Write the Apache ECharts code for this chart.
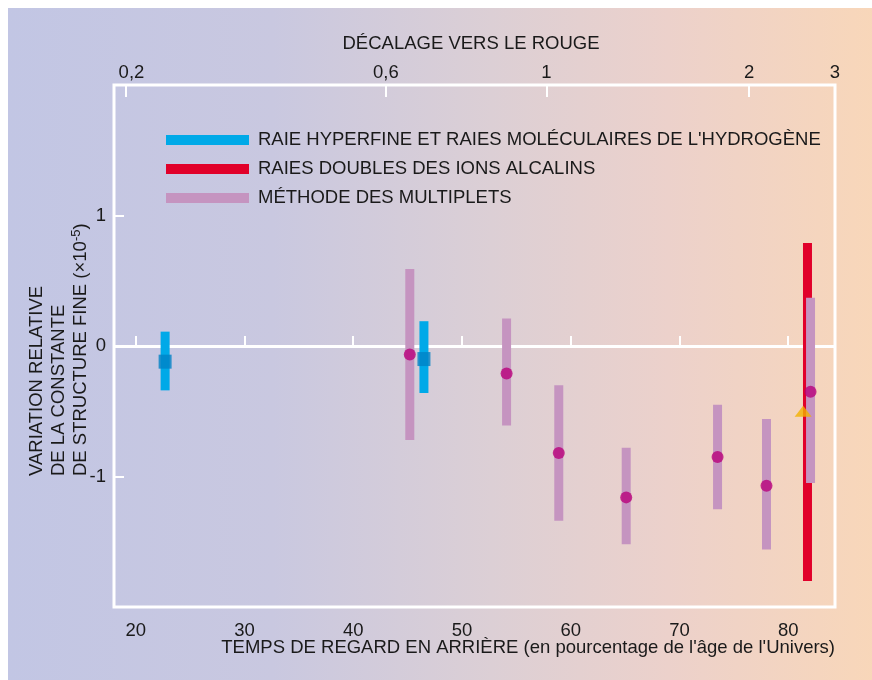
<!DOCTYPE html>
<html>
<head>
<meta charset="utf-8">
<script src="https://cdn.jsdelivr.net/npm/echarts@6/dist/echarts.min.js"></script>
<style>html,body{margin:0;padding:0;background:#fff;overflow:hidden}#c{width:872px;height:680px}</style>
</head>
<body>
<div id="c"></div>
<script>
// ---- data ----
const lookbackTicks = [20, 30, 40, 50, 60, 70, 80];
const yTicks = [-1, 0, 1];
const redshiftLabels = ['0,2', '0,6', '1', '2', '3'];
const redshiftLookback = [19.1, 43.0, 57.75, 76.4, 84.3];
const zeroLine = 0;

const hydroName = "RAIE HYPERFINE ET RAIES MOLÉCULAIRES DE L'HYDROGÈNE";
const hydroX = [22.7, 46.5];
const hydroY = [-0.12, -0.10];
const hydroLow = [-0.34, -0.36];
const hydroHigh = [0.11, 0.19];

const alkaliName = "RAIES DOUBLES DES IONS ALCALINS";
const alkaliX = [81.77];
const alkaliLow = [-1.80];
const alkaliHigh = [0.79];
const alkaliPointX = [81.37];
const alkaliY = [-0.50];

const multName = "MÉTHODE DES MULTIPLETS";
const multX = [45.2, 54.1, 58.9, 65.1, 73.5, 78.0, 82.05];
const multY = [-0.065, -0.21, -0.82, -1.16, -0.85, -1.07, -0.35];
const multLow = [-0.72, -0.61, -1.34, -1.52, -1.25, -1.56, -1.05];
const multHigh = [0.59, 0.21, -0.30, -0.78, -0.45, -0.56, 0.37];

// ---- chart ----
const FONT = 'Liberation Sans';
const FS = 18.5;
const TXT = '#1a1a1a';
const chart = echarts.init(document.getElementById('c'), null, {renderer: 'canvas'});

function barData(xs, lo, hi) { return xs.map((x, i) => [x, lo[i], hi[i]]); }
function ptData(xs, ys) { return xs.map((x, i) => [x, ys[i]]); }
function errRender(width) {
  return function (params, api) {
    const x = api.value(0);
    const top = api.coord([x, api.value(2)]);
    const bot = api.coord([x, api.value(1)]);
    return {
      type: 'rect',
      shape: {x: top[0] - width / 2, y: top[1], width: width, height: bot[1] - top[1]},
      style: {fill: api.visual('color')}
    };
  };
}

const option = {
  backgroundColor: '#ffffff',
  animation: false,
  textStyle: {fontFamily: FONT},
  graphic: [
    {
      type: 'rect', z: -100, silent: true,
      shape: {x: 8, y: 8, width: 880, height: 690},
      style: {
        fill: {
          type: 'linear', x: 0, y: 0, x2: 1, y2: 0,
          colorStops: [
            {offset: 0, color: '#c2c6e4'},
            {offset: 0.3, color: '#c9c8e0'},
            {offset: 0.55, color: '#dccfd5'},
            {offset: 0.75, color: '#ecd1cb'},
            {offset: 1, color: '#f9d7b8'}
          ]
        }
      }
    },
    {
      type: 'text', x: 471, y: 44, z: 10,
      style: {text: 'DÉCALAGE VERS LE ROUGE', fontFamily: FONT, fontSize: FS, fill: TXT, align: 'center', verticalAlign: 'middle'}
    },
    {
      type: 'text', x: 835, y: 648, z: 10,
      style: {text: "TEMPS DE REGARD EN ARRIÈRE (en pourcentage de l'âge de l'Univers)", fontFamily: FONT, fontSize: FS, fill: TXT, align: 'right', verticalAlign: 'middle'}
    },
    {
      type: 'text', x: 26, y: 476, z: 10, rotation: Math.PI / 2,
      style: {
        text: 'VARIATION RELATIVE\nDE LA CONSTANTE\nDE STRUCTURE FINE (×10{sup|-5})',
        fontFamily: FONT, fontSize: FS, lineHeight: 22, fill: TXT,
        align: 'left', verticalAlign: 'top',
        rich: {sup: {fontFamily: FONT, fontSize: 13, lineHeight: 22, verticalAlign: 'top', fill: TXT}}
      }
    }
  ],
  legend: {
    orient: 'vertical',
    left: 166, top: 130, padding: 0,
    itemWidth: 83, itemHeight: 10, itemGap: 9,
    icon: 'rect',
    data: [hydroName, alkaliName, multName],
    textStyle: {fontFamily: FONT, fontSize: FS, lineHeight: 20, color: TXT, padding: [0, 0, 0, 4]},
    selectedMode: false
  },
  grid: {
    left: 114, right: 37, top: 85, bottom: 73,
    show: true, borderColor: '#ffffff', borderWidth: 3, backgroundColor: 'transparent'
  },
  xAxis: [
    {
      type: 'value', position: 'bottom', min: 18, max: 84.3,
      axisLine: {show: false},
      splitLine: {show: false},
      axisTick: {show: true, inside: true, length: 10, customValues: lookbackTicks, lineStyle: {color: '#fff', width: 2}},
      axisLabel: {customValues: lookbackTicks, margin: 14, fontFamily: FONT, fontSize: FS, color: TXT}
    },
    {
      type: 'value', position: 'top', min: 18, max: 84.3,
      axisLine: {show: false},
      splitLine: {show: false},
      axisTick: {show: true, inside: true, length: 12, customValues: redshiftLookback, lineStyle: {color: '#fff', width: 2}},
      axisLabel: {
        customValues: redshiftLookback, margin: 3, fontFamily: FONT, fontSize: FS, color: TXT,
        formatter: v => {
          const i = redshiftLookback.indexOf(v);
          return i === 0 ? '{off|' + redshiftLabels[i] + '}' : redshiftLabels[i];
        },
        rich: {off: {fontFamily: FONT, fontSize: FS, color: TXT, padding: [0, 0, 0, 11]}}
      }
    }
  ],
  yAxis: {
    type: 'value', min: -2, max: 2,
    axisLine: {show: false},
    splitLine: {show: false},
    axisTick: {show: true, inside: true, length: 10, customValues: yTicks, lineStyle: {color: '#fff', width: 2}},
    axisLabel: {customValues: yTicks, margin: 8, fontFamily: FONT, fontSize: FS, color: TXT, formatter: v => String(v)}
  },
  series: [
    {
      name: alkaliName, type: 'custom', xAxisIndex: 0, z: 2,
      itemStyle: {color: '#e1002a'},
      renderItem: errRender(9),
      encode: {x: 0, y: [1, 2]},
      data: barData(alkaliX, alkaliLow, alkaliHigh),
      markLine: {
        silent: true, symbol: ['none', 'none'], z: 1,
        label: {show: false},
        lineStyle: {color: '#ffffff', width: 3, type: 'solid'},
        data: [{yAxis: zeroLine}]
      }
    },
    {
      name: multName, type: 'custom', xAxisIndex: 0, z: 3,
      itemStyle: {color: '#c594c0'},
      renderItem: errRender(9),
      encode: {x: 0, y: [1, 2]},
      data: barData(multX, multLow, multHigh)
    },
    {
      name: hydroName, type: 'custom', xAxisIndex: 0, z: 3,
      itemStyle: {color: '#00a9e8'},
      renderItem: errRender(9),
      encode: {x: 0, y: [1, 2]},
      data: barData(hydroX, hydroLow, hydroHigh)
    },
    {
      name: multName + ' (valeurs)', type: 'scatter', z: 5,
      symbol: 'circle', symbolSize: 12,
      itemStyle: {color: '#b8007a'},
      data: ptData(multX, multY)
    },
    {
      name: hydroName + ' (valeurs)', type: 'scatter', z: 5,
      symbol: 'rect', symbolSize: [13, 14],
      itemStyle: {color: '#0082c6'},
      data: ptData(hydroX, hydroY)
    },
    {
      name: alkaliName + ' (valeur)', type: 'scatter', z: 5,
      symbol: 'triangle', symbolSize: [17, 11],
      itemStyle: {color: '#f2b100'},
      data: ptData(alkaliPointX, alkaliY)
    }
  ]
};
chart.setOption(option);
</script>
</body>
</html>
